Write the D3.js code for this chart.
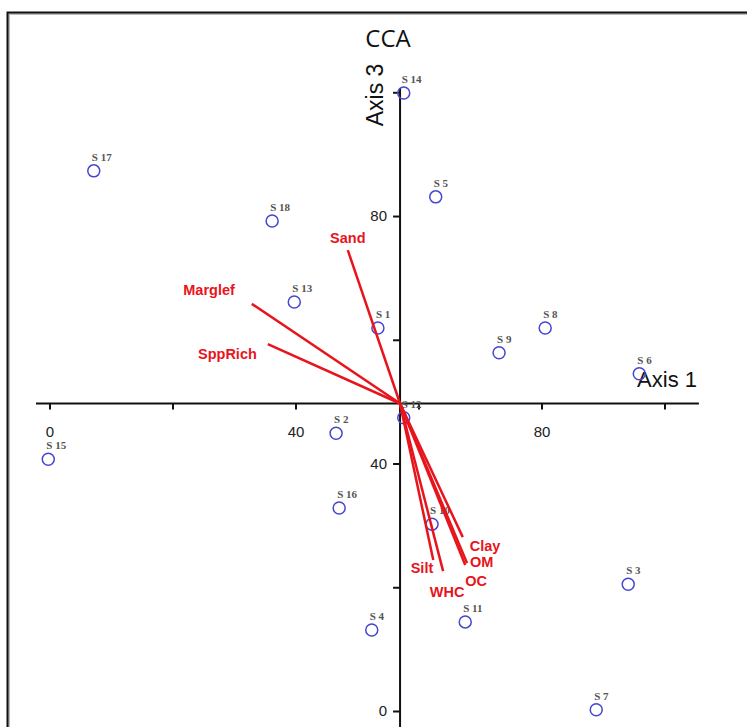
<!DOCTYPE html>
<html>
<head>
<meta charset="utf-8">
<script src="https://cdn.jsdelivr.net/npm/d3@7"></script>
<style>
  body { margin: 0; background: #fff; }
  svg { display: block; }
</style>
</head>
<body>
<div id="chart"></div>
<script>
// site scores (Axis 1, Axis 3)
var sites = ["S 14", "S 17", "S 5", "S 18", "S 13", "S 1", "S 8", "S 9", "S 6",
             "S 12", "S 2", "S 15", "S 16", "S 10", "S 3", "S 11", "S 4", "S 7"];
var axis1 = [57.6, 7.2, 62.8, 36.2, 39.8, 53.4, 80.6, 73.1, 95.9,
             57.6, 46.6, -0.2, 47.1, 62.2, 94.1, 67.6, 52.4, 88.9];
var axis3 = [99.9, 87.3, 83.1, 79.2, 66.1, 61.9, 61.9, 57.9, 54.5,
             47.4, 44.9, 40.7, 32.8, 30.2, 20.5, 14.4, 13.1, 0.2];

// environmental vectors: end points
var vars = ["Sand", "Marglef", "SppRich", "Silt", "WHC", "Clay", "OM", "OC"];
var vecX = [48.5, 32.9, 35.5, 62.4, 64.0, 67.2, 67.9, 67.6];
var vecY = [74.5, 65.8, 59.3, 24.4, 22.6, 28.1, 23.9, 23.6];

// axes cross here
var centre = [57, 49.7];
var ticks = [0, 20, 40, 60, 80, 100];
var tickLabels = ["0", "", "40", "", "80", ""];

// label placement for vectors (dx, dy, anchor)
var vecLabelPos = [
  [0, -7, "middle"], [-17, -9, "end"], [-11, 15, "end"], [0, 13, "end"],
  [4, 26, "middle"], [7, 14, "start"], [3, 4, "start"], [0, 21, "start"]
];

var w = 747, h = 727;

var svg = d3.select("#chart")
  .append("svg")
  .attr("width", w)
  .attr("height", h);

var x = d3.scaleLinear().domain([0, 100]).range([49.5, 664.5]);
var y = d3.scaleLinear().domain([0, 100]).range([711, 92.3]);

// frame
svg.append("rect")
  .attr("x", 9).attr("y", 14)
  .attr("width", 760).attr("height", 740)
  .attr("fill", "none")
  .attr("stroke", "#bbb")
  .attr("stroke-width", 2);
svg.append("rect")
  .attr("x", 7.5).attr("y", 12.5)
  .attr("width", 760).attr("height", 740)
  .attr("fill", "none")
  .attr("stroke", "#111")
  .attr("stroke-width", 2);

// title
svg.append("text")
  .attr("x", 388).attr("y", 47)
  .attr("text-anchor", "middle")
  .style("font-family", "Open Sans, Liberation Sans, sans-serif")
  .style("font-size", "24px")
  .attr("fill", "#111")
  .text("CCA");

// axis lines
svg.append("line")
  .attr("x1", x(-2.2)).attr("x2", x(105.6))
  .attr("y1", y(centre[1])).attr("y2", y(centre[1]))
  .attr("stroke", "#111").attr("stroke-width", 2);
svg.append("line")
  .attr("x1", x(centre[0])).attr("x2", x(centre[0]))
  .attr("y1", y(100.7)).attr("y2", y(-4))
  .attr("stroke", "#111").attr("stroke-width", 2);

var xAxis = d3.axisBottom(x)
  .tickValues(ticks)
  .tickSize(6)
  .tickPadding(17)
  .tickFormat(function(d, i) { return tickLabels[i]; });
var yAxis = d3.axisLeft(y)
  .tickValues(ticks)
  .tickSize(7)
  .tickPadding(6)
  .tickFormat(function(d, i) { return tickLabels[i]; });

var gx = svg.append("g")
  .attr("transform", "translate(0," + y(centre[1]) + ")")
  .call(xAxis);
var gy = svg.append("g")
  .attr("transform", "translate(" + x(centre[0]) + ",0)")
  .call(yAxis);

[gx, gy].forEach(function(g) {
  g.select(".domain").remove();
  g.selectAll(".tick line").attr("stroke", "#111").attr("stroke-width", 2);
  g.selectAll(".tick text")
    .attr("fill", "#222")
    .style("font-family", "Liberation Sans, Arial, sans-serif")
    .style("font-size", "15px");
});

// axis titles
svg.append("text")
  .attr("x", 697).attr("y", 387)
  .attr("text-anchor", "end")
  .style("font-family", "Liberation Sans, Arial, sans-serif")
  .style("font-size", "22px")
  .attr("fill", "#111")
  .text("Axis 1");
svg.append("text")
  .attr("transform", "translate(383,95) rotate(-90)")
  .attr("text-anchor", "middle")
  .style("font-family", "Liberation Sans, Arial, sans-serif")
  .style("font-size", "23px")
  .attr("fill", "#111")
  .text("Axis 3");

// sites
var pts = svg.selectAll("g.site")
  .data(sites)
  .enter()
  .append("g")
  .classed("site", true);
pts.append("circle")
  .attr("cx", function(d, i) { return x(axis1[i]); })
  .attr("cy", function(d, i) { return y(axis3[i]); })
  .attr("r", 6)
  .attr("fill", "none")
  .attr("stroke", "#4646d2")
  .attr("stroke-width", 1.5);
pts.append("text")
  .attr("x", function(d, i) { return x(axis1[i]) - 2; })
  .attr("y", function(d, i) { return y(axis3[i]) - 10; })
  .style("font-family", "Liberation Serif, Times New Roman, serif")
  .style("font-size", "11px")
  .style("font-weight", "bold")
  .attr("fill", "#555")
  .text(function(d) { return d; });

// environmental vectors
var vec = svg.selectAll("g.vec")
  .data(vars)
  .enter()
  .append("g")
  .classed("vec", true);
vec.append("line")
  .attr("x1", x(centre[0]))
  .attr("y1", y(centre[1]))
  .attr("x2", function(d, i) { return x(vecX[i]); })
  .attr("y2", function(d, i) { return y(vecY[i]); })
  .attr("stroke", "#e8141c")
  .attr("stroke-width", 2.5);
vec.append("text")
  .attr("x", function(d, i) { return x(vecX[i]) + vecLabelPos[i][0]; })
  .attr("y", function(d, i) { return y(vecY[i]) + vecLabelPos[i][1]; })
  .attr("text-anchor", function(d, i) { return vecLabelPos[i][2]; })
  .style("font-family", "Liberation Sans, Arial, sans-serif")
  .style("font-size", "14.5px")
  .style("font-weight", "bold")
  .attr("fill", "#e8141c")
  .text(function(d) { return d; });
</script>
</body>
</html>
